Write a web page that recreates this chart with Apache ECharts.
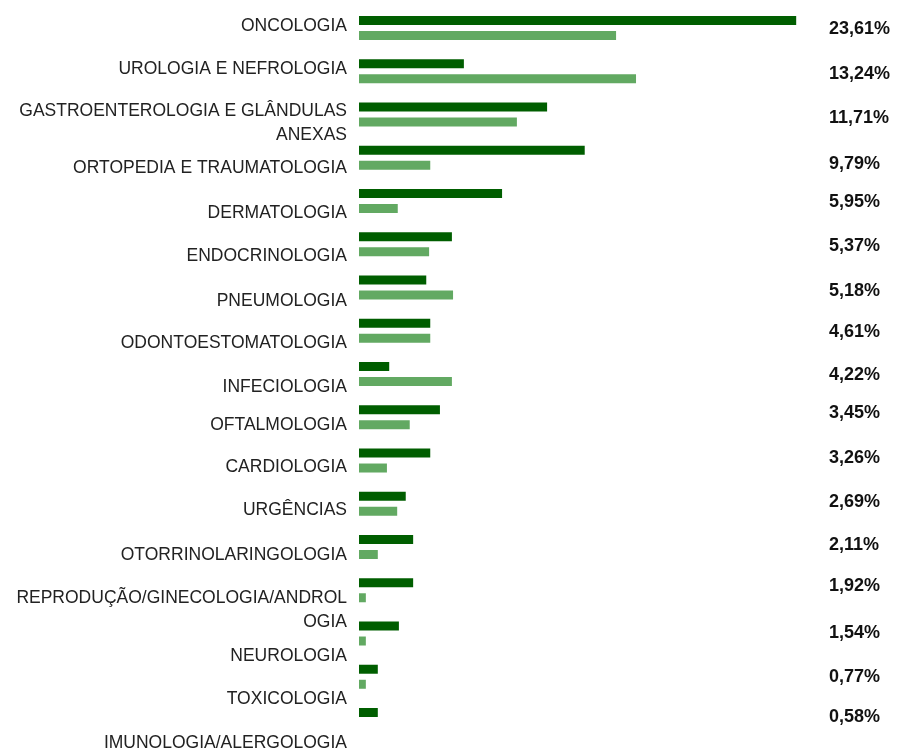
<!DOCTYPE html>
<html>
<head>
<meta charset="utf-8">
<script src="https://cdn.jsdelivr.net/npm/echarts@6/dist/echarts.min.js"></script>
<style>
  html, body { margin: 0; padding: 0; background: #ffffff; }
  #chart { width: 924px; height: 749px; }
</style>
</head>
<body>
<div id="chart"></div>
<script>
// Specialties, top to bottom
const specialties = [
  'ONCOLOGIA',
  'UROLOGIA E NEFROLOGIA',
  'GASTROENTEROLOGIA E GLÂNDULAS\nANEXAS',
  'ORTOPEDIA E TRAUMATOLOGIA',
  'DERMATOLOGIA',
  'ENDOCRINOLOGIA',
  'PNEUMOLOGIA',
  'ODONTOESTOMATOLOGIA',
  'INFECIOLOGIA',
  'OFTALMOLOGIA',
  'CARDIOLOGIA',
  'URGÊNCIAS',
  'OTORRINOLARINGOLOGIA',
  'REPRODUÇÃO/GINECOLOGIA/ANDROL\nOGIA',
  'NEUROLOGIA',
  'TOXICOLOGIA',
  'IMUNOLOGIA/ALERGOLOGIA'
];

// First group (dark bars)
const groupA = [76.7, 18.4, 33.0, 39.6, 25.1, 16.3, 11.8, 12.5, 5.3, 14.2, 12.5, 8.2, 9.5, 9.5, 7.0, 3.3, 3.3];
// Second group (light bars)
const groupB = [45.1, 48.6, 27.7, 12.5, 6.8, 12.3, 16.5, 12.5, 16.3, 8.9, 4.9, 6.7, 3.3, 1.2, 1.2, 1.2, 0];

// Share of the total per specialty
const shareLabels = ['23,61%', '13,24%', '11,71%', '9,79%', '5,95%', '5,37%', '5,18%', '4,61%', '4,22%',
  '3,45%', '3,26%', '2,69%', '2,11%', '1,92%', '1,54%', '0,77%', '0,58%'];

// Layout: small vertical nudges (px, positive = down) for the text columns
const nameNudge = [2, 0, 10, 10, 10, 8, 8, 6, 5, -2.5, -4.5, -7, -6, 4, 5, 3, 2];
const shareNudge = [1, 3, 3.5, 6, 1.5, 2, 4, 1.5, 1.5, -4.5, -2.5, -1.5, -1.5, -4.5, -0.5, 0.5, -2.5];

// Rich-text styles n0..nN: asymmetric padding shifts the text by half its amount
function nudgeStyles(nudges, base) {
  const rich = {};
  nudges.forEach((d, i) => {
    rich['n' + i] = Object.assign({}, base, {
      padding: [Math.max(0, 2 * d), 0, Math.max(0, -2 * d), 0]
    });
  });
  return rich;
}
function nudgeFormatter() {
  return (value, index) => String(value).split('\n')
    .map(line => '{n' + index + '|' + line + '}')
    .join('\n');
}

const nameFont = {
  fontFamily: 'Liberation Sans, Arial, sans-serif', fontSize: 17.5, lineHeight: 24,
  color: '#222222', align: 'right'
};
const shareFont = {
  fontFamily: 'Liberation Sans, Arial, sans-serif', fontSize: 18, lineHeight: 22,
  fontWeight: 'bold', color: '#111111', align: 'left'
};

const chart = echarts.init(document.getElementById('chart'), null, { renderer: 'canvas' });

const barStep = 43.25;
const labelStep = 44.8;

chart.setOption({
  animation: false,
  backgroundColor: '#ffffff',
  grid: [
    { left: 359, width: 456, top: 28 - barStep / 2, height: barStep * specialties.length, outerBoundsMode: 'none' },
    { left: 350, width: 1, top: 24 - labelStep / 2, height: labelStep * specialties.length, outerBoundsMode: 'none' }
  ],
  xAxis: [
    { type: 'value', gridIndex: 0, min: 0, max: 80, show: false },
    { type: 'value', gridIndex: 1, min: 0, max: 1, show: false }
  ],
  yAxis: [
    {
      type: 'category', gridIndex: 0, inverse: true, data: specialties,
      show: false
    },
    {
      type: 'category', gridIndex: 0, inverse: true, position: 'right', data: shareLabels,
      axisLine: { show: false }, axisTick: { show: false }, splitLine: { show: false },
      axisLabel: {
        margin: 14, align: 'left', interval: 0,
        formatter: nudgeFormatter(),
        rich: nudgeStyles(shareNudge, shareFont)
      }
    },
    {
      type: 'category', gridIndex: 1, inverse: true, position: 'left', data: specialties,
      axisLine: { show: false }, axisTick: { show: false }, splitLine: { show: false },
      axisLabel: {
        margin: 3, align: 'right', interval: 0,
        formatter: nudgeFormatter(),
        rich: nudgeStyles(nameNudge, nameFont)
      }
    }
  ],
  series: [
    {
      type: 'bar', xAxisIndex: 0, yAxisIndex: 0, data: groupA,
      barWidth: 9, barGap: '67%',
      itemStyle: { color: '#005E00' }
    },
    {
      type: 'bar', xAxisIndex: 0, yAxisIndex: 0, data: groupB,
      barWidth: 9, barGap: '67%',
      itemStyle: { color: '#62A962' }
    }
  ]
});
</script>
</body>
</html>
